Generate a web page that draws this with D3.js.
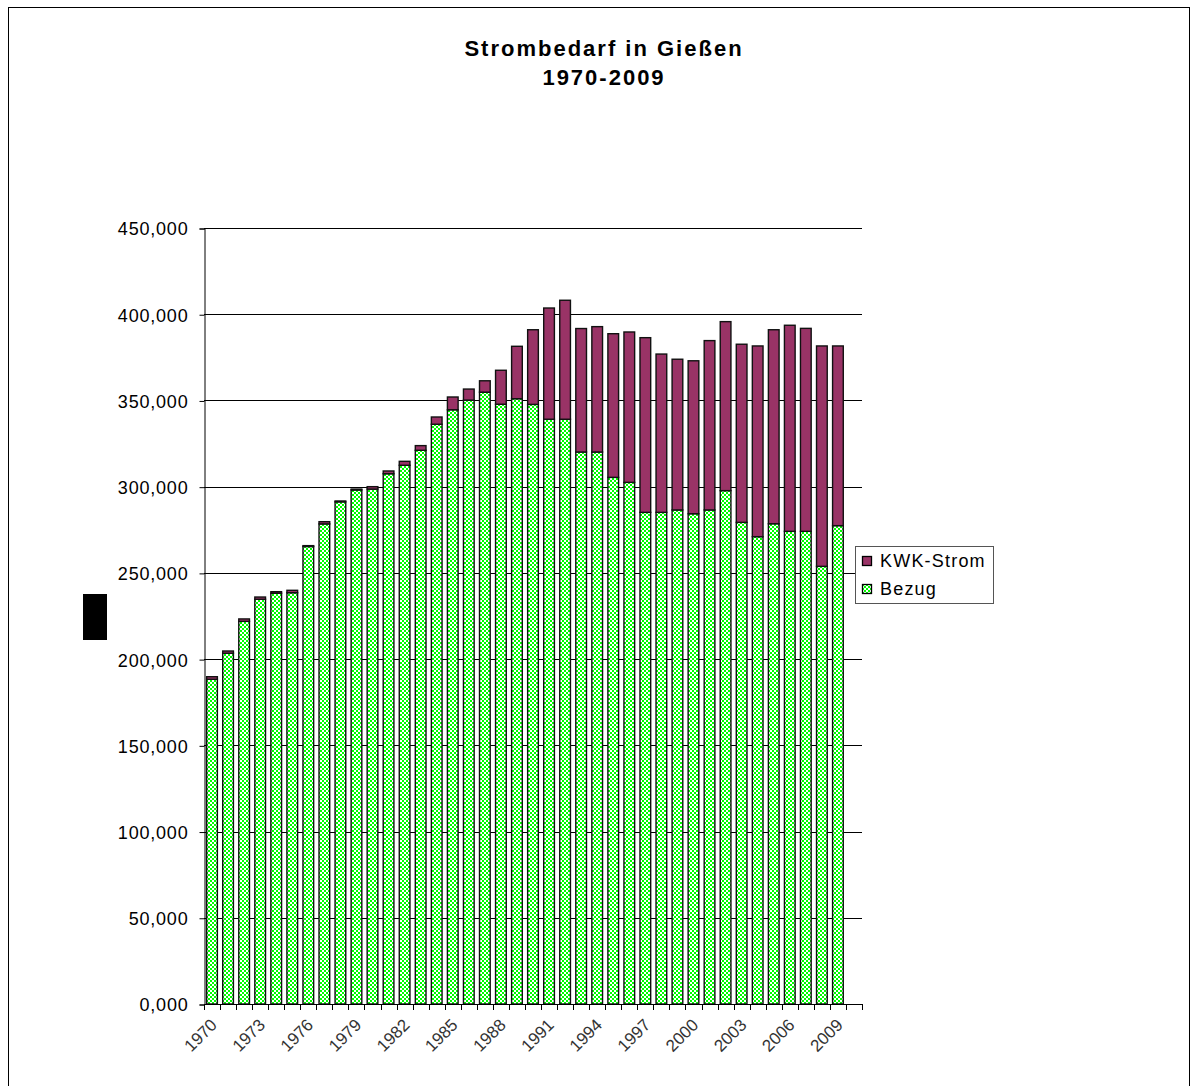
<!DOCTYPE html>
<html>
<head>
<meta charset="utf-8">
<script src="https://cdn.jsdelivr.net/npm/d3@7"></script>
<style>
  html, body { margin: 0; padding: 0; background: #fff; }
  svg { display: block; font-family: "Liberation Sans", Arial, sans-serif; }
</style>
</head>
<body>
<svg id="chart" width="1194" height="1086"></svg>
<script>
// Strombedarf in Gießen, 1970-2009 (stacked: Bezug + KWK-Strom)
const years = d3.range(1970, 2010);
const bezug = [
  188300, 203400, 221900, 234700, 238200, 238500, 265300, 278400, 291200, 298100,
  298600, 307500, 312400, 321100, 336200, 344600, 350200, 354800, 347800, 351000,
  347700, 339100, 339100, 320100, 320100, 305400, 302500, 285100, 285100, 286500,
  284300, 286500, 297700, 279300, 271000, 278500, 274100, 274100, 253800, 277400
];
const kwk = [
  1500, 1300, 1400, 1300, 900, 1400, 500, 1300, 500, 500,
  1400, 1600, 2300, 2700, 4200, 7400, 6400, 6600, 19700, 30400,
  43300, 64500, 69000, 71600, 72700, 83300, 87200, 101300, 91800, 87400,
  88700, 98200, 98000, 103300, 110600, 112500, 119500, 117700, 127800, 104200
];
const yTicks = [0, 50000, 100000, 150000, 200000, 250000, 300000, 350000, 400000, 450000];
const yTickLabels = ["0,000", "50,000", "100,000", "150,000", "200,000", "250,000",
                     "300,000", "350,000", "400,000", "450,000"];
const labelEvery = 3;
const seriesNames = ["KWK-Strom", "Bezug"];

const svg = d3.select("#chart");
const font = "\"Liberation Sans\", Arial, sans-serif";

// outer frame
svg.append("rect").attr("x", 8.5).attr("y", 7.5).attr("width", 1181).attr("height", 1100)
  .attr("fill", "none").attr("stroke", "#000").attr("stroke-width", 1);

// checkered fill for Bezug
const defs = svg.append("defs");
const pat = defs.append("pattern").attr("id", "checker")
  .attr("patternUnits", "userSpaceOnUse").attr("width", 4).attr("height", 4);
pat.append("rect").attr("width", 4).attr("height", 4).attr("fill", "#00ff00");
pat.append("rect").attr("x", 0).attr("y", 0).attr("width", 2).attr("height", 2).attr("fill", "#ffffff");
pat.append("rect").attr("x", 2).attr("y", 2).attr("width", 2).attr("height", 2).attr("fill", "#ffffff");

// title
const title = svg.append("text").attr("x", 604).attr("text-anchor", "middle")
  .attr("font-weight", "bold").attr("font-size", 22).attr("letter-spacing", 2.0);
title.append("tspan").attr("x", 604).attr("y", 56).text("Strombedarf in Gießen");
title.append("tspan").attr("x", 604).attr("y", 85).text("1970-2009");

// scales
const plotLeft = 204, plotRight = 862, plotTop = 228, plotBottom = 1004;
const step = (plotRight - plotLeft) / (years.length + 1);
const x = d3.scaleBand().domain(years)
  .range([plotLeft, plotLeft + step * years.length])
  .paddingInner(1 / 3).paddingOuter(1 / 6);
const y = d3.scaleLinear().domain([0, 450000]).range([plotBottom, plotTop]);

// gridlines
svg.append("g").selectAll("line").data(yTicks.filter(d => d > 0)).join("line")
  .attr("x1", plotLeft).attr("x2", plotRight)
  .attr("y1", d => Math.round(y(d)) + 0.5).attr("y2", d => Math.round(y(d)) + 0.5)
  .attr("stroke", "#000").attr("stroke-width", 1);

// y axis
const yAxis = d3.axisLeft(y).tickValues(yTicks).tickSize(5)
  .tickFormat((d, i) => yTickLabels[i]);
const gy = svg.append("g").attr("transform", `translate(${plotLeft + 0.5},0.5)`).call(yAxis);
gy.select(".domain").attr("stroke", "#000");
gy.selectAll(".tick line").attr("stroke", "#000");
gy.selectAll(".tick text").attr("font-family", font).attr("font-size", 18)
  .attr("letter-spacing", 0.8)
  .attr("fill", "#000").attr("x", -16).attr("dy", "0.36em");

// stacked bars
const stackData = years.map((yr, i) => ({ year: yr, Bezug: bezug[i], "KWK-Strom": kwk[i] }));
const stacked = d3.stack().keys(["Bezug", "KWK-Strom"])(stackData);
const fills = { "Bezug": "url(#checker)", "KWK-Strom": "#993366" };
svg.append("g").selectAll("g").data(stacked).join("g")
  .attr("fill", d => fills[d.key])
  .selectAll("rect").data(d => d).join("rect")
  .attr("x", d => x(d.data.year))
  .attr("width", x.bandwidth())
  .attr("y", d => y(d[1]))
  .attr("height", d => y(d[0]) - y(d[1]))
  .attr("stroke", "#111").attr("stroke-width", 1.4);

// x axis
const gx = svg.append("g");
gx.append("line").attr("x1", plotLeft).attr("x2", plotRight)
  .attr("y1", plotBottom + 0.5).attr("y2", plotBottom + 0.5).attr("stroke", "#000");
gx.selectAll("line.tick").data(d3.range(years.length + 2)).join("line")
  .attr("class", "tick")
  .attr("x1", i => Math.round(plotLeft + i * step) + 0.5)
  .attr("x2", i => Math.round(plotLeft + i * step) + 0.5)
  .attr("y1", plotBottom).attr("y2", plotBottom + 6).attr("stroke", "#000");
gx.selectAll("text").data(years.filter((d, i) => i % labelEvery === 0)).join("text")
  .attr("transform", d => `translate(${x(d) + x.bandwidth() / 2 + 6},${plotBottom + 22}) rotate(-45)`)
  .attr("text-anchor", "end").attr("font-size", 17).attr("font-family", font)
  .attr("fill", "#333").text(d => d);

// y-axis title block
svg.append("rect").attr("x", 83).attr("y", 594).attr("width", 24).attr("height", 46).attr("fill", "#000");

// legend
const lg = svg.append("g");
lg.append("rect").attr("x", 855.5).attr("y", 546.5).attr("width", 138).attr("height", 57)
  .attr("fill", "#fff").attr("stroke", "#555").attr("stroke-width", 1);
const legendFill = { "KWK-Strom": "#993366", "Bezug": "url(#checker)" };
seriesNames.forEach((name, i) => {
  const cy = 561 + i * 28;
  lg.append("rect").attr("x", 862.5).attr("y", cy - 4.5).attr("width", 9).attr("height", 9)
    .attr("fill", legendFill[name]).attr("stroke", "#000").attr("stroke-width", 1.3);
  lg.append("text").attr("x", 880).attr("y", cy).attr("dy", "0.36em")
    .attr("font-size", 18).attr("letter-spacing", 1.2)
    .attr("font-family", font).attr("fill", "#000").text(name);
});
</script>
</body>
</html>
